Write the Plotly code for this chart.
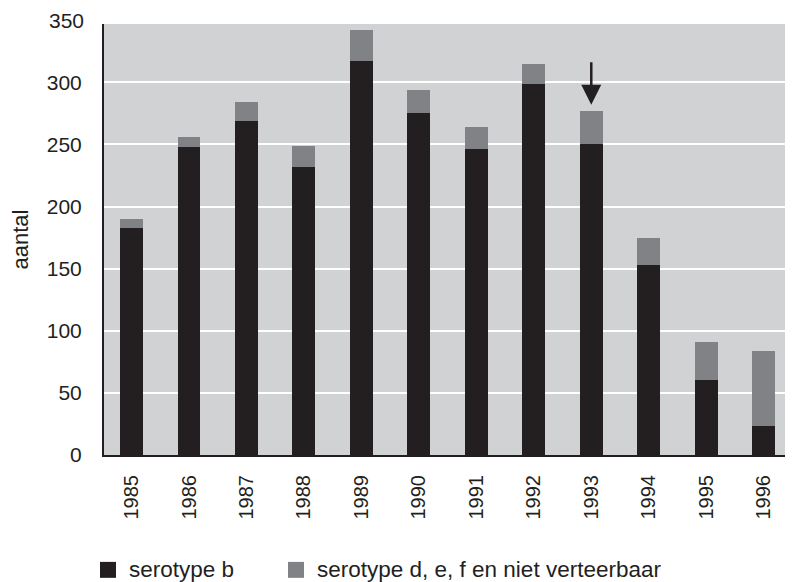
import plotly.graph_objects as go

years = ["1985", "1986", "1987", "1988", "1989", "1990", "1991", "1992", "1993", "1994", "1995", "1996"]
serotype_b = [183, 248, 269, 232, 317, 275, 246, 299, 250, 153, 60, 23]
serotype_other = [7, 8, 15, 17, 25, 19, 18, 16, 27, 22, 31, 61]
y_ticks = [0, 50, 100, 150, 200, 250, 300]
arrow_year = "1993"

BLACK = "#231f20"
GREY = "#808285"
BG = "#d1d2d4"
FONT = "Liberation Sans, Arial, sans-serif"
Y_MAX = 347

fig = go.Figure()
fig.add_trace(go.Bar(x=years, y=serotype_b, name="serotype b",
                     marker=dict(color=BLACK, line=dict(width=0)), width=0.4))
fig.add_trace(go.Bar(x=years, y=serotype_other, name="serotype d, e, f en niet verteerbaar",
                     marker=dict(color=GREY, line=dict(width=0)), width=0.4))

i_arrow = years.index(arrow_year)
arrow_top = serotype_b[i_arrow] + serotype_other[i_arrow]
fig.add_annotation(x=i_arrow, y=arrow_top + 5, xref="x", yref="y", text="",
                   showarrow=True, ax=0, ay=-44, arrowhead=2, arrowsize=1.6,
                   arrowwidth=2.5, arrowcolor=BLACK)

# 350 label sits just above the plot area
fig.add_annotation(x=-0.026, y=350 / Y_MAX, xref="paper", yref="paper", text="350", showarrow=False,
                   xanchor="right", yanchor="middle", font=dict(family=FONT, size=21, color=BLACK))

# custom legend
W_PLOT = 689.0
legend_items = [("serotype b", BLACK, 100), ("serotype d, e, f en niet verteerbaar", GREY, 288)]
for label, col, px in legend_items:
    x0 = (px - 104) / W_PLOT
    fig.add_shape(type="rect", xref="paper", yref="paper", x0=x0, x1=x0 + 16 / W_PLOT,
                  y0=-0.285, y1=-0.248, fillcolor=col, line=dict(width=0))
    fig.add_annotation(x=x0 + 27 / W_PLOT, y=-0.2665, xref="paper", yref="paper", text=label,
                       showarrow=False, xanchor="left", yanchor="middle",
                       font=dict(family=FONT, size=22.5, color=BLACK))

fig.update_layout(
    barmode="stack",
    width=785, height=574,
    margin=dict(l=96, r=0, t=16, b=127),
    paper_bgcolor="white",
    plot_bgcolor=BG,
    showlegend=False,
    font=dict(family=FONT, size=20, color=BLACK),
    xaxis=dict(type="category", range=[-0.479, 11.51], tickangle=-90,
               showline=True, linecolor=BLACK, linewidth=2, showgrid=False,
               ticks="", ticklabelstandoff=10, tickfont=dict(size=20, color=BLACK)),
    yaxis=dict(range=[0, Y_MAX], tickvals=y_ticks, showline=True, linecolor=BLACK, linewidth=2,
               showgrid=True, gridcolor="white", gridwidth=2, zeroline=True, zerolinecolor=BG,
               ticks="", ticklabelstandoff=16, tickfont=dict(size=21, color=BLACK),
               title=dict(text="aantal", standoff=13, font=dict(size=22, color=BLACK))),
)

fig.write_html("out.html")
